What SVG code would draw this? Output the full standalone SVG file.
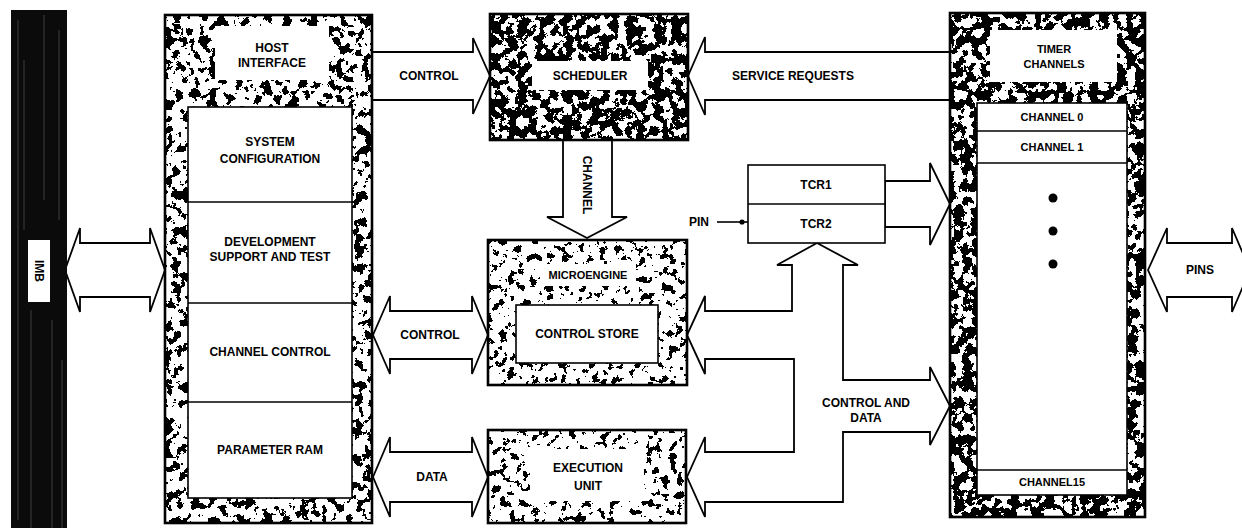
<svg xmlns="http://www.w3.org/2000/svg" width="1242" height="528" viewBox="0 0 1242 528">
<style>
.t{font-family:"Liberation Sans",Arial,sans-serif;font-weight:bold;font-size:12px;fill:#000;text-anchor:middle}
.s{font-size:11px}
.frame{fill:none;stroke:#000;stroke-width:2.6}
.bg{fill:#fff}
.box{fill:#fff;stroke:#000;stroke-width:1.6}
.wh{fill:#fff}
.line{fill:none;stroke:#000;stroke-width:1.6}
.arrow{fill:#fff;stroke:#000;stroke-width:1.8;stroke-linejoin:miter}
</style>
<defs>
<filter id="spkD" x="0" y="0" width="1" height="1" color-interpolation-filters="sRGB">
<feTurbulence type="fractalNoise" baseFrequency="0.11" numOctaves="4" seed="4" result="n"/>
<feColorMatrix in="n" type="matrix" values="0 0 0 0 0 0 0 0 0 0 0 0 0 0 0 -10 0 0 0 5.7" result="a"/>
<feComponentTransfer in="a" result="b"><feFuncA type="discrete" tableValues="0 1"/></feComponentTransfer>
<feComposite in="SourceGraphic" in2="b" operator="in"/>
</filter>
<filter id="spkM" x="0" y="0" width="1" height="1" color-interpolation-filters="sRGB">
<feTurbulence type="fractalNoise" baseFrequency="0.11" numOctaves="4" seed="9" result="n"/>
<feColorMatrix in="n" type="matrix" values="0 0 0 0 0 0 0 0 0 0 0 0 0 0 0 -10 0 0 0 5.0" result="a"/>
<feComponentTransfer in="a" result="b"><feFuncA type="discrete" tableValues="0 1"/></feComponentTransfer>
<feComposite in="SourceGraphic" in2="b" operator="in"/>
</filter>
<filter id="spkL" x="0" y="0" width="1" height="1" color-interpolation-filters="sRGB">
<feTurbulence type="fractalNoise" baseFrequency="0.13" numOctaves="4" seed="2" result="n"/>
<feColorMatrix in="n" type="matrix" values="0 0 0 0 0 0 0 0 0 0 0 0 0 0 0 -10 0 0 0 4.5" result="a"/>
<feComponentTransfer in="a" result="b"><feFuncA type="discrete" tableValues="0 1"/></feComponentTransfer>
<feComposite in="SourceGraphic" in2="b" operator="in"/>
</filter>
</defs>
<rect width="1242" height="528" fill="#fff"/>

<g id="connectors">
<polygon class="arrow" points="65,270 80,228 80,243 150,243 150,228 165,270 150,312 150,297 80,297 80,312"/>
<polygon class="arrow" points="1148,270 1167,228 1167,243 1232,243 1232,228 1250,270 1232,312 1232,297 1167,297 1167,312"/>
<polygon class="arrow" points="372,52 473,52 473,38 490,76 473,114 473,100 372,100"/>
<polygon class="arrow" points="950,52 705,52 705,37 688,76 705,115 705,100 950,100"/>
<polygon class="arrow" points="563,140 563,217 547,217 587,238 627,217 612,217 612,140"/>
<polygon class="arrow" points="373,335 390,296 390,311 472,311 472,296 488,335 472,374 472,359 390,359 390,374"/>
<polygon class="arrow" points="373,477 390,437 390,452 472,452 472,437 488,477 472,517 472,502 390,502 390,517"/>
<polygon class="arrow" points="705,311 792,311 792,265 777,265 817,243 858,265 843,265 843,380 930,380 930,367 950,406 930,445 930,432 843,432 843,502 705,502 705,517 687,477 705,437 705,452 794,452 794,359 705,359 705,374 687,335 705,296"/>
<polygon class="arrow" points="885,181 930,181 930,163 950,204 930,245 930,227 885,227"/>
<line class="line" x1="717" y1="222" x2="748" y2="222"/>
<circle cx="742" cy="222" r="2.6" fill="#000"/>
<text class="t" x="429" y="80">CONTROL</text>
<text class="t" x="793" y="80">SERVICE REQUESTS</text>
<text class="t" transform="translate(583,185) rotate(90)" x="0" y="0">CHANNEL</text>
<text class="t" x="430" y="339">CONTROL</text>
<text class="t" x="432" y="481">DATA</text>
<text class="t" x="866" y="407">CONTROL AND</text>
<text class="t" x="866" y="422">DATA</text>
<text class="t" x="699" y="226">PIN</text>
<text class="t" x="1200" y="274">PINS</text>
</g>

<g id="imb">
<rect x="11" y="10" width="56" height="518" fill="#0b0b0b"/>
<g stroke="#777" stroke-width="0.8" opacity="0.6">
<line x1="18" y1="20" x2="18" y2="520"/><line x1="24" y1="60" x2="24" y2="230"/><line x1="31" y1="310" x2="31" y2="528"/>
<line x1="44" y1="15" x2="44" y2="200"/><line x1="52" y1="320" x2="52" y2="528"/><line x1="59" y1="30" x2="59" y2="220"/><line x1="62" y1="360" x2="62" y2="528"/>
</g>
<rect x="28" y="240" width="22" height="62" fill="#fff"/>
<text class="t" transform="translate(35,271) rotate(90)" x="0" y="0">IMB</text>
</g>

<g id="host-interface">
<rect class="bg" x="165" y="15" width="207" height="508"/>
<rect x="165" y="15" width="207" height="508" fill="#000" filter="url(#spkM)"/>
<rect class="wh" x="215" y="26" width="114" height="54"/>
<rect class="box" x="188" y="107" width="164" height="391"/>
<line class="line" x1="188" y1="202" x2="352" y2="202"/>
<line class="line" x1="188" y1="303" x2="352" y2="303"/>
<line class="line" x1="188" y1="402" x2="352" y2="402"/>
<rect class="frame" x="165" y="15" width="207" height="508"/>
<text class="t" x="272" y="52">HOST</text>
<text class="t" x="272" y="67">INTERFACE</text>
<text class="t" x="270" y="146">SYSTEM</text>
<text class="t" x="270" y="163">CONFIGURATION</text>
<text class="t" x="270" y="246">DEVELOPMENT</text>
<text class="t" x="270" y="261">SUPPORT AND TEST</text>
<text class="t" x="270" y="356">CHANNEL CONTROL</text>
<text class="t" x="270" y="454">PARAMETER RAM</text>
</g>

<g id="scheduler">
<rect class="bg" x="490" y="14" width="198" height="126"/>
<rect x="490" y="14" width="198" height="126" fill="#000" filter="url(#spkD)"/>
<rect class="wh" x="532" y="61" width="116" height="29"/>
<rect class="frame" x="490" y="14" width="198" height="126"/>
<text class="t" x="590" y="80">SCHEDULER</text>
</g>

<g id="microengine">
<rect class="bg" x="488" y="240" width="199" height="145"/>
<rect x="488" y="240" width="199" height="145" fill="#000" filter="url(#spkL)"/>
<rect class="wh" x="540" y="264" width="96" height="22"/>
<rect class="box" x="516" y="305" width="142" height="58"/>
<rect class="frame" x="488" y="240" width="199" height="145"/>
<text class="t s" x="588" y="279">MICROENGINE</text>
<text class="t" x="587" y="338">CONTROL STORE</text>
</g>

<g id="execution-unit">
<rect class="bg" x="488" y="430" width="198" height="93"/>
<rect x="488" y="430" width="198" height="93" fill="#000" filter="url(#spkL)"/>
<rect class="wh" x="530" y="449" width="114" height="52"/>
<rect class="frame" x="488" y="430" width="198" height="93"/>
<text class="t" x="588" y="472">EXECUTION</text>
<text class="t" x="588" y="490">UNIT</text>
</g>

<g id="tcr">
<rect class="box" x="748" y="165" width="137" height="78"/>
<line class="line" x1="748" y1="204" x2="885" y2="204"/>
<text class="t" x="816" y="189">TCR1</text>
<text class="t" x="816" y="228">TCR2</text>
</g>

<g id="timer-channels">
<rect class="bg" x="950" y="13" width="195" height="504"/>
<rect x="950" y="13" width="195" height="504" fill="#000" filter="url(#spkD)"/>
<rect class="wh" x="990" y="30" width="127" height="52"/>
<rect class="box" x="977" y="103" width="150" height="392"/>
<line class="line" x1="977" y1="131" x2="1127" y2="131"/>
<line class="line" x1="977" y1="163" x2="1127" y2="163"/>
<line class="line" x1="977" y1="470" x2="1127" y2="470"/>
<rect class="frame" x="950" y="13" width="195" height="504"/>
<text class="t s" x="1054" y="53">TIMER</text>
<text class="t s" x="1054" y="68">CHANNELS</text>
<text class="t s" x="1052" y="121">CHANNEL 0</text>
<text class="t s" x="1052" y="151">CHANNEL 1</text>
<circle cx="1053" cy="198" r="4.5" fill="#000"/>
<circle cx="1053" cy="231" r="4.5" fill="#000"/>
<circle cx="1053" cy="264" r="4.5" fill="#000"/>
<text class="t s" x="1052" y="486">CHANNEL15</text>
</g>
</svg>
